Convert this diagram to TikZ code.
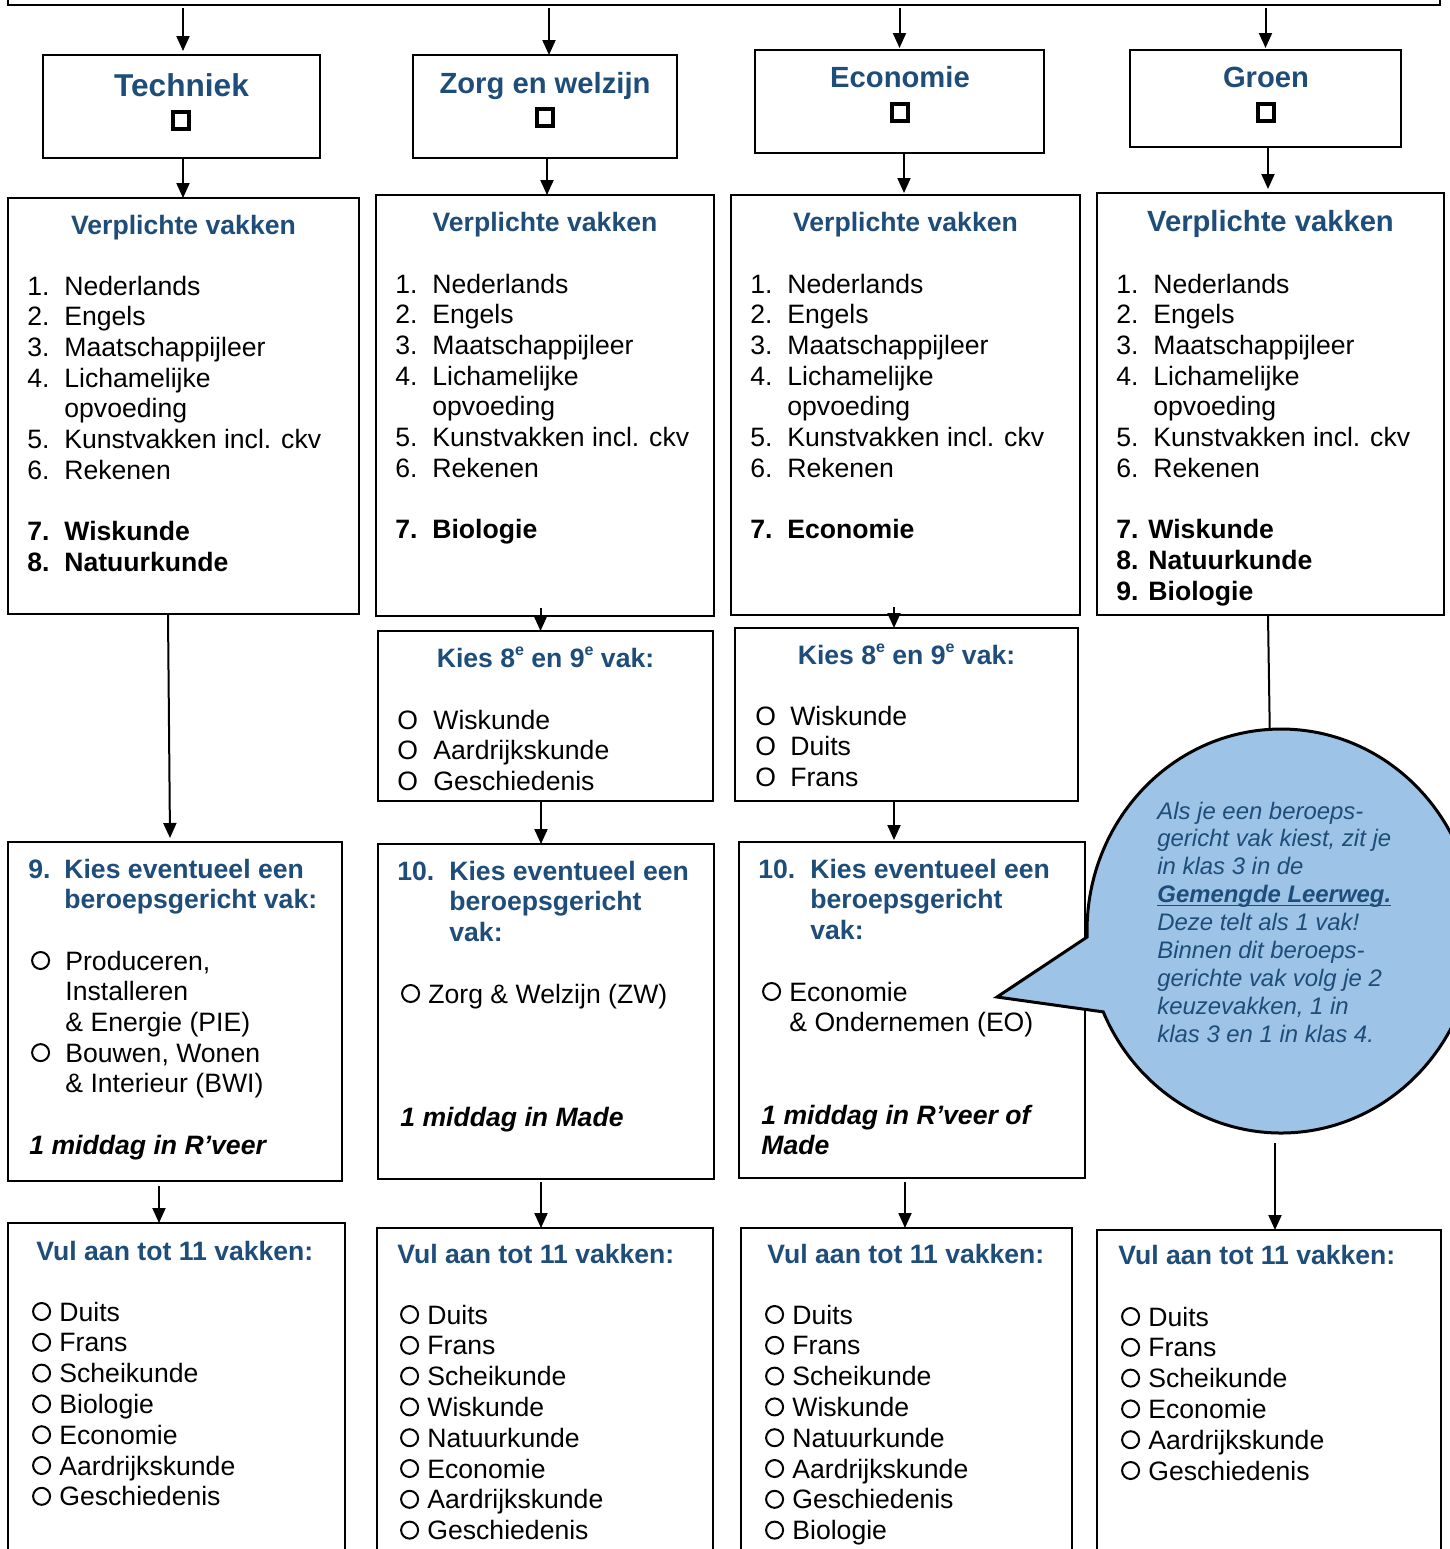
\documentclass[tikz,border=0pt]{standalone}
\usepackage{fontspec}
\usepackage{pict2e}
\setmainfont{Liberation Sans}
\usetikzlibrary{arrows.meta,calc}
\definecolor{tblue}{RGB}{31,77,122}
\definecolor{cfill}{RGB}{157,195,230}
\newcommand\fsB{\fontsize{13.3pt}{15.35pt}\selectfont}
\newcommand\fsV{\fontsize{13.3pt}{15.4pt}\selectfont}
\newcommand\fsT{\fontsize{14.6pt}{16pt}\selectfont}
\newcommand\fsTT{\fontsize{15.8pt}{18pt}\selectfont}
\newcommand\fsC{\fontsize{11.95pt}{13.95pt}\selectfont}
\newcommand\nmw[3]{\makebox[#1][l]{#2}#3}
\newcommand\nm[2]{\makebox[18.5pt][l]{#1}#2}
\newcommand\cir{{\setlength{\unitlength}{1pt}\begin{picture}(10,9.5)\put(5.6,4.75){\linethickness{1pt}\circle{8.5}}\end{picture}}}
\newcommand\sups[1]{\raisebox{0.42em}{\fontsize{8pt}{8pt}\selectfont #1}}
\newlength\ulw
\newcommand\ulx[1]{\settowidth\ulw{#1}\rlap{\rule[-1.8pt]{\ulw}{0.9pt}}#1}
\newcommand\bx[5]{\node[box, minimum width={(#4-#2)*0.5pt}, minimum height={(#5-#3)*0.5pt}] (#1) at ({(#2+#4)/2},{(#3+#5)/2}) {};}
\newcommand\blkp[1]{\parbox[t]{220pt}{\raggedright #1}}
\tikzset{
  box/.style={draw, line width=1pt, inner sep=0pt, outer sep=0pt, fill=white},
  sq/.style={draw, line width=2pt, minimum width=8pt, minimum height=8.5pt, inner sep=0pt, outer sep=0pt},
  ttl/.style={anchor=base, inner sep=0pt, text=tblue, font=\fsB\bfseries},
  ttlw/.style={anchor=base west, inner sep=0pt, text=tblue, font=\fsB\bfseries},
  blk/.style={anchor=base west, inner sep=0pt, font=\fsB},
  vblk/.style={anchor=base west, inner sep=0pt, font=\fsV},
  hdr/.style={anchor=base west, inner sep=0pt, font=\fsB\bfseries, text=tblue},
  arr/.style={line width=1pt, -{Triangle[length=7.5pt,width=6.5pt]}},
  ln/.style={line width=1pt},
  callout/.style={draw, line width=1.5pt, fill=cfill, line join=miter}
}
\begin{document}
\begin{tikzpicture}[x=0.5pt,y=-0.5pt]
\useasboundingbox (0,0) rectangle (1450,1549);

% boxes
\bx{top}{8}{-300}{1440}{5}
\bx{tech}{43}{55}{320}{158}
\bx{zorg}{413}{55}{677}{158}
\bx{econ}{755}{50}{1044}{153}
\bx{groen}{1130}{50}{1401}{147}
\bx{va}{8}{198}{359}{614}
\bx{vb}{376}{195}{714}{616}
\bx{vc}{731}{195}{1080}{615}
\bx{vd}{1097}{193}{1444}{615}
\bx{sb}{378}{631}{713}{801}
\bx{sc}{735}{628}{1078}{801}
\bx{ka}{8}{842}{342}{1181}
\bx{kb}{378}{844}{714}{1179}
\bx{kc}{739}{842}{1085}{1178}
\bx{ua}{8}{1223}{345}{1700}
\bx{ub}{377}{1228}{713}{1700}
\bx{uc}{741}{1228}{1072}{1700}
\bx{ud}{1097}{1230}{1441}{1700}

% sector titles
\node[anchor=base, inner sep=0pt, text=tblue, font=\fsTT\bfseries] (ttech) at (181.5,96) {Techniek};
\node[sq] (sqa) at (181,120) {};
\node[anchor=base, inner sep=0pt, text=tblue, font=\fsT\bfseries] (tzorg) at (545,93) {Zorg en welzijn};
\node[sq] (sqb) at (545,117) {};
\node[anchor=base, inner sep=0pt, text=tblue, font=\fsT\bfseries] (tecon) at (900,87) {Economie};
\node[sq] (sqc) at (900,112) {};
\node[anchor=base, inner sep=0pt, text=tblue, font=\fsT\bfseries] (tgroen) at (1266,87) {Groen};
\node[sq] (sqd) at (1266,112) {};

% verplichte vakken
\node[ttl] (vat) at (183.5,234) {Verplichte vakken};
\node[blk] (val) at (27,295) {\blkp{\nm{1.}{Nederlands}\\ \nm{2.}{Engels}\\ \nm{3.}{Maatschappijleer}\\ \nm{4.}{Lichamelijke}\\ \nm{}{opvoeding}\\ \nm{5.}{Kunstvakken incl. ckv}\\ \nm{6.}{Rekenen}\\[15.35pt] \textbf{\nm{7.}{Wiskunde}}\\ \textbf{\nm{8.}{Natuurkunde}}}};

\node[ttl] (vbt) at (545,231) {Verplichte vakken};
\node[blk] (vbl) at (395,293) {\blkp{\nm{1.}{Nederlands}\\ \nm{2.}{Engels}\\ \nm{3.}{Maatschappijleer}\\ \nm{4.}{Lichamelijke}\\ \nm{}{opvoeding}\\ \nm{5.}{Kunstvakken incl. ckv}\\ \nm{6.}{Rekenen}\\[15.35pt] \textbf{\nm{7.}{Biologie}}}};

\node[ttl] (vct) at (905.5,231) {Verplichte vakken};
\node[blk] (vcl) at (750,293) {\blkp{\nm{1.}{Nederlands}\\ \nm{2.}{Engels}\\ \nm{3.}{Maatschappijleer}\\ \nm{4.}{Lichamelijke}\\ \nm{}{opvoeding}\\ \nm{5.}{Kunstvakken incl. ckv}\\ \nm{6.}{Rekenen}\\[15.35pt] \textbf{\nm{7.}{Economie}}}};

\node[anchor=base, inner sep=0pt, text=tblue, font=\fsT\bfseries] (vdt) at (1270.5,231) {Verplichte vakken};
\node[blk] (vdl) at (1116,293) {\blkp{\nm{1.}{Nederlands}\\ \nm{2.}{Engels}\\ \nm{3.}{Maatschappijleer}\\ \nm{4.}{Lichamelijke}\\ \nm{}{opvoeding}\\ \nm{5.}{Kunstvakken incl. ckv}\\ \nm{6.}{Rekenen}\\[15.35pt] \textbf{7. Wiskunde}\\ \textbf{8. Natuurkunde}\\ \textbf{9. Biologie}}};

% kies 8e en 9e
\node[ttl] (sbt) at (545.5,667) {Kies 8\sups{e} en 9\sups{e} vak:};
\node[blk] (sbl) at (397,729) {\blkp{\nmw{18pt}{O}{Wiskunde}\\ \nmw{18pt}{O}{Aardrijkskunde}\\ \nmw{18pt}{O}{Geschiedenis}}};
\node[ttl] (sct) at (906.5,664) {Kies 8\sups{e} en 9\sups{e} vak:};
\node[blk] (scl) at (755,725) {\blkp{\nmw{17.5pt}{O}{Wiskunde}\\ \nmw{17.5pt}{O}{Duits}\\ \nmw{17.5pt}{O}{Frans}}};

% beroepsgericht
\node[hdr] (kah) at (28,878) {\blkp{\nmw{18pt}{9.}{Kies eventueel een}\\ \nmw{18pt}{}{beroepsgericht vak:}}};
\node[blk] (kal) at (29,970) {\blkp{\nmw{18pt}{\cir}{Produceren,}\\ \nmw{18pt}{}{Installeren}\\ \nmw{18pt}{}{\& Energie (PIE)}\\ \nmw{18pt}{\cir}{Bouwen, Wonen}\\ \nmw{18pt}{}{\& Interieur (BWI)}}};
\node[blk, font=\fsB\bfseries\itshape] (kai) at (29,1154) {1 middag in R’veer};

\node[hdr] (kbh) at (397,880) {\blkp{\nmw{26pt}{10.}{Kies eventueel een}\\ \nmw{26pt}{}{beroepsgericht}\\ \nmw{26pt}{}{vak:}}};
\node[blk] (kbl) at (399,1003) {\blkp{\nmw{14.5pt}{\cir}{Zorg \& Welzijn (ZW)}}};
\node[blk, font=\fsB\bfseries\itshape] (kbi) at (400,1126) {1 middag in Made};

\node[hdr] (kch) at (758,878) {\blkp{\nmw{26pt}{10.}{Kies eventueel een}\\ \nmw{26pt}{}{beroepsgericht}\\ \nmw{26pt}{}{vak:}}};
\node[blk] (kcl) at (760,1001) {\blkp{\nmw{14.5pt}{\cir}{Economie}\\ \nmw{14.5pt}{}{\& Ondernemen (EO)}}};
\node[blk, font=\fsB\bfseries\itshape] (kci) at (761,1124) {\blkp{1 middag in R’veer of\\ Made}};

% vul aan
\node[ttlw] (uat) at (36,1260) {Vul aan tot 11 vakken:};
\node[vblk] (ual) at (30,1321) {\blkp{\nmw{14.5pt}{\cir}{Duits}\\ \nmw{14.5pt}{\cir}{Frans}\\ \nmw{14.5pt}{\cir}{Scheikunde}\\ \nmw{14.5pt}{\cir}{Biologie}\\ \nmw{14.5pt}{\cir}{Economie}\\ \nmw{14.5pt}{\cir}{Aardrijkskunde}\\ \nmw{14.5pt}{\cir}{Geschiedenis}}};
\node[ttlw] (ubt) at (397,1263) {Vul aan tot 11 vakken:};
\node[vblk] (ubl) at (398,1324) {\blkp{\nmw{14.5pt}{\cir}{Duits}\\ \nmw{14.5pt}{\cir}{Frans}\\ \nmw{14.5pt}{\cir}{Scheikunde}\\ \nmw{14.5pt}{\cir}{Wiskunde}\\ \nmw{14.5pt}{\cir}{Natuurkunde}\\ \nmw{14.5pt}{\cir}{Economie}\\ \nmw{14.5pt}{\cir}{Aardrijkskunde}\\ \nmw{14.5pt}{\cir}{Geschiedenis}}};
\node[ttlw] (uct) at (767,1263) {Vul aan tot 11 vakken:};
\node[vblk] (ucl) at (763,1324) {\blkp{\nmw{14.5pt}{\cir}{Duits}\\ \nmw{14.5pt}{\cir}{Frans}\\ \nmw{14.5pt}{\cir}{Scheikunde}\\ \nmw{14.5pt}{\cir}{Wiskunde}\\ \nmw{14.5pt}{\cir}{Natuurkunde}\\ \nmw{14.5pt}{\cir}{Aardrijkskunde}\\ \nmw{14.5pt}{\cir}{Geschiedenis}\\ \nmw{14.5pt}{\cir}{Biologie}}};
\node[ttlw] (udt) at (1118,1264) {Vul aan tot 11 vakken:};
\node[vblk] (udl) at (1119,1326) {\blkp{\nmw{14.5pt}{\cir}{Duits}\\ \nmw{14.5pt}{\cir}{Frans}\\ \nmw{14.5pt}{\cir}{Scheikunde}\\ \nmw{14.5pt}{\cir}{Economie}\\ \nmw{14.5pt}{\cir}{Aardrijkskunde}\\ \nmw{14.5pt}{\cir}{Geschiedenis}}};

% connectors
\draw[arr] ($(tech.north |- top.south)+(1.5,3)$) -- ($(tech.north)+(1.5,-4)$);
\draw[arr] ($(zorg.north |- top.south)+(4,3)$) -- ($(zorg.north)+(4,0)$);
\draw[arr] ($(econ.north |- top.south)+(0,3)$) -- ($(econ.north)+(0,-2)$);
\draw[arr] ($(groen.north |- top.south)+(0,3)$) -- ($(groen.north)+(0,-2)$);
\draw[arr] ($(tech.south)+(1.5,0)$) -- ($(tech.south |- va.north)+(1.5,0)$);
\draw[arr] ($(zorg.south)+(2,0)$) -- ($(zorg.south |- vb.north)+(2,0)$);
\draw[arr] ($(econ.south)+(4.5,0)$) -- ($(econ.south |- vc.north)+(4.5,-2)$);
\draw[arr] ($(groen.south)+(2.5,0)$) -- ($(groen.south |- vd.north)+(2.5,-4)$);
\draw[arr] ($(va.south)+(-15.5,0)$) -- ($(ka.north)+(-5,-4)$);
\draw[arr] ($(vb.south)+(-4.5,-8)$) -- ($(vb.south |- sb.north)+(-4.5,0)$);
\draw[arr] ($(vc.south)+(-11.5,-8)$) -- ($(vc.south |- sc.north)+(-11.5,0)$);
\draw[arr] ($(sb.south)+(-4.5,0)$) -- ($(sb.south |- kb.north)+(-4.5,0)$);
\draw[arr] ($(sc.south)+(-12.5,0)$) -- ($(sc.south |- kc.north)+(-12.5,-2)$);
\draw[arr] ($(ka.south)+(-16,5)$) -- ($(ka.south |- ua.north)+(-16,0)$);
\draw[arr] ($(kb.south)+(-5,3)$) -- ($(kb.south |- ub.north)+(-5,0)$);
\draw[arr] ($(kc.south)+(-7,4)$) -- ($(kc.south |- uc.north)+(-7,0)$);

% callout
\coordinate (ctop) at (1270,745);
\coordinate (cbot) at (1275,1133);
\coordinate (ctip) at (997,997);
\draw[ln] ($(vd.south)+(-2.5,0)$) -- (ctop);
\draw[callout] (1087.1,937) arc[start angle=181.7, end angle=-156.4, x radius=97pt, y radius=101pt] -- (ctip) -- cycle;
\node[anchor=base west, inner sep=0pt, text=tblue, font=\fsC\itshape] (ctext) at (1157,819) {\parbox[t]{150pt}{\raggedright Als je een beroeps-\\ gericht vak kiest, zit je\\ in klas 3 in de\\ \textbf{\ulx{Gemengde Leerweg.}}\\ Deze telt als 1 vak!\\ Binnen dit beroeps-\\ gerichte vak volg je 2\\ keuzevakken, 1 in\\ klas 3 en 1 in klas 4.}};
\draw[arr] ($(cbot)+(0,10)$) -- (cbot |- ud.north);
\end{tikzpicture}
\end{document}
